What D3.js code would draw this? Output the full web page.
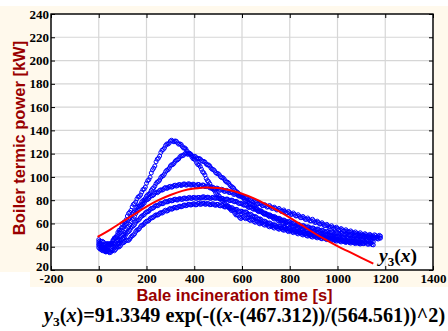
<!DOCTYPE html>
<html><head><meta charset="utf-8">
<script src="https://cdn.jsdelivr.net/npm/d3@7"></script>
<style>html,body{margin:0;padding:0;background:#fff;} svg{display:block;}</style>
</head><body>
<svg id="chart" width="448" height="331"></svg>
<script>
// ---- data ----
// sample instants: even samples (0,10,...) and odd samples (5,15,...)
const timesA = [0,10,20,30,40,50,60,70,80,90,100,110,120,130,140,150,160,170,180,190,
200,210,220,230,240,250,260,270,280,290,300,310,320,330,340,350,360,370,380,390,
400,410,420,430,440,450,460,470,480,490,500,510,520,530,540,550,560,570,580,590,
600,610,620,630,640,650,660,670,680,690,700,710,720,730,740,750,760,770,780,790,
800,810,820,830,840,850,860,870,880,890,900,910,920,930,940,950,960,970,980,990,
1000,1010,1020,1030,1040,1050,1060,1070,1080,1090,1100,1110,1120,1130,1140,1150,1160,1170,1180];
const timesB = [5,15,25,35,45,55,65,75,85,95,105,115,125,135,145,155,165,175,185,195,
205,215,225,235,245,255,265,275,285,295,305,315,325,335,345,355,365,375,385,395,
405,415,425,435,445,455,465,475,485,495,505,515,525,535,545,555,565,575,585,595,
605,615,625,635,645,655,665,675,685,695,705,715,725,735,745,755,765,775,785,795,
805,815,825,835,845,855,865,875,885,895,905,915,925,935,945,955,965,975,985,995,
1005,1015,1025,1035,1045,1055,1065,1075,1085,1095,1105,1115,1125,1135,1145,1155,1165,1175];

const run1a = [42.5,40.2,39.1,37.8,40.4,42.1,45.6,48.0,52.3,54.6,
59.1,61.5,66.4,69.6,74.3,77.0,81.1,83.2,87.0,89.6,
94.5,97.6,103.4,107.5,113.0,116.1,121.0,123.6,127.0,128.2,
130.8,130.7,130.9,129.2,128.4,126.1,124.9,122.1,120.4,117.1,
115.4,112.2,110.3,106.6,103.4,98.7,95.9,91.6,89.3,86.1,
84.4,81.2,79.3,76.6,75.4,72.6,71.3,68.7,67.4,65.2,
65.3,65.0,64.9,63.2,63.6,61.7,62.0,60.2,60.5,59.2,
59.4,57.7,57.9,56.7,57.0,55.6,55.9,54.7,55.1,53.6,
54.0,52.7,53.1,51.6,52.0,50.7,51.0,49.6,50.0,48.7,
49.3,48.2,48.3,47.2,47.8,46.7,46.8,45.7,46.3,45.2,
45.8,44.6,44.9,44.2,44.4,43.6,44.0,43.2,43.5,42.8,42.9];
const run1b = [41.9,38.6,39.4,38.2,42.0,43.2,47.5,49.4,54.1,56.3,
60.9,63.2,68.6,71.2,76.3,78.4,82.8,84.5,89.1,91.3,
96.7,99.8,106.0,109.4,115.2,117.9,122.9,124.8,128.3,129.0,
131.5,130.2,130.6,128.1,127.9,124.8,124.0,120.6,119.3,115.7,
114.3,110.6,108.9,104.4,101.6,96.8,94.2,89.8,88.2,84.8,
83.3,79.7,78.5,75.3,74.4,71.2,70.5,67.3,66.8,64.2,
66.1,64.1,64.6,62.5,63.1,61.0,61.6,59.6,60.3,58.5,
59.0,57.1,57.8,56.0,56.8,55.0,55.8,54.1,54.9,53.0,
53.8,52.1,52.9,51.0,51.8,50.1,50.8,49.1,49.8,48.3,
49.2,47.6,48.2,46.8,47.6,46.1,46.7,45.3,46.2,44.8,
45.6,44.1,45.0,43.6,44.3,43.1,43.9,42.7,43.6,42.3];

const run2a = [44.3,42.1,41.4,40.0,41.9,42.6,45.5,47.1,50.4,52.6,
56.5,58.6,62.4,64.5,68.4,70.1,73.5,75.0,78.4,80.1,
83.5,85.0,88.4,90.6,94.3,96.1,99.4,101.0,104.5,106.1,
109.4,110.6,113.4,114.7,117.3,118.2,119.8,119.7,119.9,118.3,
117.8,116.2,115.8,114.1,113.3,111.1,110.3,107.6,106.3,103.7,
102.8,100.2,99.3,96.6,95.4,92.7,91.3,88.6,86.9,84.1,
82.9,80.6,79.4,77.1,76.4,74.1,73.3,71.0,70.8,68.6,
68.4,66.6,66.3,64.6,64.4,62.6,62.3,60.6,60.8,59.1,
59.4,58.0,57.9,56.6,56.9,55.6,55.9,54.6,54.3,53.1,
53.4,52.1,52.4,51.1,51.4,50.1,50.4,49.1,49.4,48.6,
48.9,47.6,48.3,47.1,47.8,46.6,47.4,46.1,46.8,45.6,
46.3,45.1,45.8,44.7,45.3,44.3];
const run2b = [43.0,41.2,41.6,39.9,42.6,43.4,46.6,48.3,51.8,54.2,
57.9,60.0,63.7,66.0,69.5,71.4,74.6,76.3,79.6,81.4,
84.6,86.3,89.9,92.1,95.6,97.3,100.6,102.4,105.7,107.4,
110.4,111.6,114.4,115.6,118.1,118.6,120.4,119.4,119.6,117.6,
117.4,115.7,115.4,113.3,112.7,110.3,109.4,106.6,105.3,102.9,
101.8,99.4,98.3,95.6,94.5,91.7,90.3,87.5,85.9,83.2,
82.2,79.6,78.7,76.3,75.6,73.3,72.5,70.2,70.0,67.7,
67.9,65.8,65.9,63.8,63.9,61.9,62.0,59.9,60.5,58.4,
59.1,57.2,57.7,55.9,56.6,54.9,55.6,53.9,54.1,52.4,
53.1,51.4,52.1,50.4,51.1,49.5,50.1,48.4,49.3,47.9,
48.6,46.9,48.0,46.4,47.5,46.0,47.0,45.5,46.5,45.0,
46.0,44.6,45.5,44.1,45.0];

const run3a = [46.1,44.6,43.9,42.1,42.4,41.6,42.9,43.1,45.4,46.6,
49.9,52.1,56.4,59.1,63.4,66.1,70.4,72.6,75.9,77.6,
80.4,81.6,83.9,84.6,86.9,87.1,88.9,89.1,90.9,90.6,
91.9,91.6,92.9,92.6,93.4,93.1,93.9,93.1,93.9,93.1,
93.4,92.6,93.4,92.1,92.9,91.6,91.9,90.6,90.9,89.6,
89.9,88.6,88.9,87.6,87.9,86.6,86.4,85.1,84.9,83.6,
83.4,82.1,81.4,80.1,79.4,78.6,78.1,76.9,76.6,75.4,
75.4,74.4,74.2,73.1,72.9,71.8,71.6,70.5,70.3,69.2,
69.2,67.9,67.9,66.5,66.3,65.0,64.8,63.5,63.5,62.2,
62.3,61.0,60.8,59.6,59.4,58.2,58.0,56.9,56.8,55.8,
55.7,54.7,54.6,53.6,53.5,52.7,52.6,51.8,51.7,51.0,
50.9,50.2,50.4,49.6,49.9,49.1,49.6,48.6,49.1];
const run3b = [45.0,44.6,42.4,42.8,41.5,42.6,42.4,44.6,45.5,48.6,
50.6,54.6,57.5,61.6,64.4,68.6,71.2,74.6,76.4,79.4,
80.6,83.1,83.9,86.1,86.4,88.4,88.6,90.4,90.1,91.6,
91.1,92.6,92.1,93.4,92.6,93.9,92.9,94.1,92.9,93.8,
92.4,93.6,92.1,93.1,91.6,92.4,90.6,91.4,89.6,90.4,
88.6,89.4,87.6,88.4,86.6,87.1,85.0,85.6,83.6,84.4,
82.1,82.4,80.2,80.6,78.2,79.1,76.9,77.5,75.3,76.1,
74.0,75.4,72.9,74.0,71.6,72.9,70.3,71.6,69.0,70.3,
67.8,69.0,66.5,67.5,65.0,66.0,63.5,64.7,62.2,63.6,
60.8,62.0,59.5,60.6,58.2,59.2,56.9,58.0,55.7,56.8,
54.6,55.6,53.5,54.6,52.5,53.6,51.6,52.7,50.8,52.0,
49.8,51.2,49.3,50.6,48.8,50.2,48.3,49.8];

const run4a = [39.2,37.6,36.9,35.6,36.8,37.1,39.4,40.1,42.9,44.1,
47.4,49.1,52.4,54.1,57.4,59.1,62.4,63.6,66.4,67.6,
69.9,70.6,72.9,73.6,75.4,75.6,77.4,77.1,78.9,78.6,
79.9,79.6,80.9,80.1,81.4,80.6,81.9,81.1,82.4,81.6,
82.4,81.6,82.4,82.1,82.9,82.1,82.4,81.6,82.4,81.6,
81.9,81.1,81.4,80.6,80.9,79.6,79.9,78.6,78.4,77.1,
76.9,75.6,75.4,73.6,73.9,72.1,71.9,70.1,70.4,68.6,
68.4,67.1,66.9,65.6,65.4,64.1,63.9,62.6,62.4,61.1,
61.4,60.1,59.9,58.6,58.9,57.6,57.9,56.6,56.9,55.6,
55.9,54.6,54.9,53.6,53.9,52.6,52.9,52.1,52.4,51.1,
51.9,50.6,51.4,50.1,50.9,49.6,50.4,49.1,49.9,48.6,
49.4,48.1,48.9,47.6,48.4,47.1,47.9,46.6,47.4];
const run4b = [38.0,36.6,36.0,36.4,35.8,38.5,39.0,41.6,43.0,45.9,
48.0,51.0,53.0,56.0,58.0,61.0,62.8,65.2,66.8,69.0,
70.0,72.0,73.0,74.8,75.2,76.8,76.9,78.3,78.5,79.6,
79.4,80.6,80.3,81.0,80.8,81.6,81.2,82.0,81.6,82.3,
81.7,82.4,81.6,82.8,81.9,82.6,81.7,82.3,81.8,82.1,
81.2,81.6,80.6,81.0,79.9,80.1,78.9,79.0,77.4,77.3,
76.0,76.0,74.2,74.4,72.6,72.6,70.8,71.0,69.2,69.0,
67.5,67.5,66.0,66.0,64.6,64.5,63.0,63.0,61.5,61.8,
60.5,60.5,59.0,59.3,57.9,58.2,56.9,57.2,56.0,56.2,
54.9,55.3,54.0,54.3,53.0,53.3,52.3,52.8,51.5,52.0,
50.9,51.5,50.4,51.0,50.0,50.5,49.5,50.0,49.0,49.5,
48.5,49.0,48.0,48.5,47.5,48.0,47.0,47.5];

const run5a = [41.1,39.0,37.9,35.6,35.9,35.2,37.4,37.6,39.9,40.6,
43.4,44.6,45.4,46.6,49.4,51.1,54.4,55.6,58.4,59.6,
61.9,62.6,64.9,65.6,67.4,67.6,69.4,69.6,71.4,71.1,
72.9,72.6,73.9,73.6,74.9,74.6,75.9,75.6,76.4,76.1,
76.9,76.1,77.4,76.6,77.4,76.6,76.9,76.1,76.9,75.6,
76.4,75.1,75.4,74.1,74.4,73.1,73.4,71.6,71.9,70.1,
70.4,69.6,69.4,67.6,67.4,65.6,65.4,63.6,63.4,61.6,
61.4,60.1,59.9,58.6,58.4,57.1,57.4,56.1,56.4,55.1,
55.4,54.1,54.4,53.1,53.4,52.1,52.4,51.1,51.4,50.1,
50.4,49.1,49.4,48.6,48.9,47.6,47.9,47.1,47.4,46.1,
46.4,45.6,45.9,44.6,45.4,44.1,44.9,43.6,44.4,43.1,
43.9,42.6,43.4,42.1,42.9,41.6];
const run5b = [40.1,38.2,36.6,36.2,34.9,36.6,36.5,39.0,39.8,42.3,
43.6,45.6,45.5,48.3,50.0,53.1,54.6,57.3,58.6,61.0,
61.9,64.1,64.9,66.8,67.1,68.7,68.9,70.8,70.6,72.4,
72.2,73.6,73.3,74.6,74.3,75.6,75.2,76.4,75.8,76.8,
76.0,77.1,76.4,77.3,76.5,77.2,76.1,76.8,75.9,76.4,
75.3,75.6,74.3,74.6,73.3,73.6,72.1,72.2,70.6,70.6,
69.6,70.0,68.0,68.0,66.1,66.0,64.1,64.0,62.1,62.0,
60.3,60.5,58.8,59.0,57.3,57.7,56.3,56.7,55.3,55.7,
54.3,54.7,53.3,53.7,52.3,52.7,51.3,51.7,50.3,50.7,
49.3,49.7,48.6,49.2,47.8,48.2,47.0,47.7,46.3,46.7,
45.5,46.2,44.8,45.5,44.3,44.9,43.8,44.5,43.3,44.0,
42.8,43.5,42.3,43.0,41.8];

const evenRuns = [run1a, run2a, run3a, run4a, run5a];
const oddRuns  = [run1b, run2b, run3b, run4b, run5b];

// fitted curve y3(x)
const fitTimes = [-5,50,100,150,200,250,300,350,400,450,500,550,600,650,700,750,800,850,900,950,1000,1050,1100,1150];
const fitValues = [48.5,55,61.5,68,74.5,80,84.5,88,90,91,90.5,88.5,85.5,81.5,76.5,71,65,58.5,52,46,40.5,35.5,30.5,25.5];

const xTicks = [-200,0,200,400,600,800,1000,1200,1400];
const yTicks = [20,40,60,80,100,120,140,160,180,200,220,240];

const xTitle = "Bale incineration time [s]";
const yTitle = "Boiler termic power [kW]";

// ---- drawing ----
const svg = d3.select("#chart");
const L = 51, R = 433, T = 14, B = 270;
const x = d3.scaleLinear().domain([-200,1400]).range([L,R]);
const y = d3.scaleLinear().domain([20,240]).range([B,T]);
const cream = "#fff9ec";
const darkRed = "#990000";
const serif = "'Liberation Serif','Times New Roman',serif";
const sans = "'Liberation Sans',Arial,sans-serif";

svg.append("path")
  .attr("d", "M0,6 H448 V287 H30 V272 H0 Z")
  .attr("fill", cream);

svg.append("rect").attr("x",L).attr("y",T).attr("width",R-L).attr("height",B-T).attr("fill","#fff");

const grid = svg.append("g").attr("stroke","#d6d6d6").attr("stroke-width",1.2);
grid.selectAll("line.v").data(xTicks).join("line")
  .attr("x1",d=>x(d)).attr("x2",d=>x(d)).attr("y1",T).attr("y2",B);
grid.selectAll("line.h").data(yTicks).join("line")
  .attr("x1",L).attr("x2",R).attr("y1",d=>y(d)).attr("y2",d=>y(d));

svg.append("clipPath").attr("id","pc").append("rect")
  .attr("x",L).attr("y",T).attr("width",R-L).attr("height",B-T);

const dataG = svg.append("g").attr("clip-path","url(#pc)");
function drawRun(run, ts) {
  dataG.append("g").selectAll("circle")
    .data(run.map((v,i)=>({t:ts[i], v})))
    .join("circle")
    .attr("cx", d=>x(d.t)).attr("cy", d=>y(d.v)).attr("r", 2)
    .attr("fill","none").attr("stroke","#0000ff").attr("stroke-width",1);
}
evenRuns.forEach(r => drawRun(r, timesA));
oddRuns.forEach(r => drawRun(r, timesB));

const line = d3.line().x(d=>x(d[0])).y(d=>y(d[1])).curve(d3.curveMonotoneX);
dataG.append("path")
  .attr("d", line(fitTimes.map((t,i)=>[t, fitValues[i]])))
  .attr("fill","none").attr("stroke","#ff0000").attr("stroke-width",2);

// axes
const axB = svg.append("g").attr("transform",`translate(0,${B})`)
  .call(d3.axisBottom(x).tickValues(xTicks).tickSizeInner(-4).tickSizeOuter(0).tickPadding(3.5).tickFormat(d=>String(d)));
const axL = svg.append("g").attr("transform",`translate(${L},0)`)
  .call(d3.axisLeft(y).tickValues(yTicks).tickSizeInner(-4).tickSizeOuter(0).tickPadding(2));
const axT = svg.append("g").attr("transform",`translate(0,${T})`)
  .call(d3.axisTop(x).tickValues(xTicks).tickSizeInner(-4).tickSizeOuter(0).tickFormat(""));
const axR = svg.append("g").attr("transform",`translate(${R},0)`)
  .call(d3.axisRight(y).tickValues(yTicks).tickSizeInner(-4).tickSizeOuter(0).tickFormat(""));
[axB,axL,axT,axR].forEach(g=>{
  g.select(".domain").remove();
  g.selectAll(".tick line").attr("stroke","#000").attr("stroke-width",1);
  g.selectAll("text").attr("font-family",serif).attr("font-weight","bold").attr("font-size",13).attr("fill","#000");
});
axL.selectAll(".tick text").filter(d=>d===20).attr("dy","0.05em");

svg.append("rect").attr("x",L).attr("y",T).attr("width",R-L).attr("height",B-T)
  .attr("fill","none").attr("stroke","#000").attr("stroke-width",1.4);

// titles
svg.append("text").attr("x",234.5).attr("y",301).attr("text-anchor","middle")
  .attr("font-family",sans).attr("font-weight","bold").attr("font-size",16.5).attr("fill",darkRed)
  .text(xTitle);
svg.append("text").attr("transform","translate(25,138) rotate(-90)").attr("text-anchor","middle")
  .attr("font-family",sans).attr("font-weight","bold").attr("font-size",16.5).attr("fill",darkRed)
  .text(yTitle);

// legend label near curve end
const lg = svg.append("text").attr("x",379).attr("y",262)
  .attr("font-family",serif).attr("font-weight","bold").attr("font-size",19.5).attr("fill","#000");
lg.append("tspan").attr("font-style","italic").text("y");
lg.append("tspan").attr("font-size",13).attr("dy",4).text("3");
lg.append("tspan").attr("dy",-4).text("(");
lg.append("tspan").attr("font-style","italic").text("x");
lg.append("tspan").text(")");

// formula
const fm = svg.append("text").attr("x",44).attr("y",322)
  .attr("font-family",serif).attr("font-weight","bold").attr("font-size",20.2).attr("fill","#000");
fm.append("tspan").attr("font-style","italic").text("y");
fm.append("tspan").attr("font-size",13.5).attr("dy",4).text("3");
fm.append("tspan").attr("dy",-4).text("(");
fm.append("tspan").attr("font-style","italic").text("x");
fm.append("tspan").text(")=91.3349 exp(-((");
fm.append("tspan").attr("font-style","italic").text("x");
fm.append("tspan").text("-(467.312))/(564.561))^2)");
</script>
</body></html>
